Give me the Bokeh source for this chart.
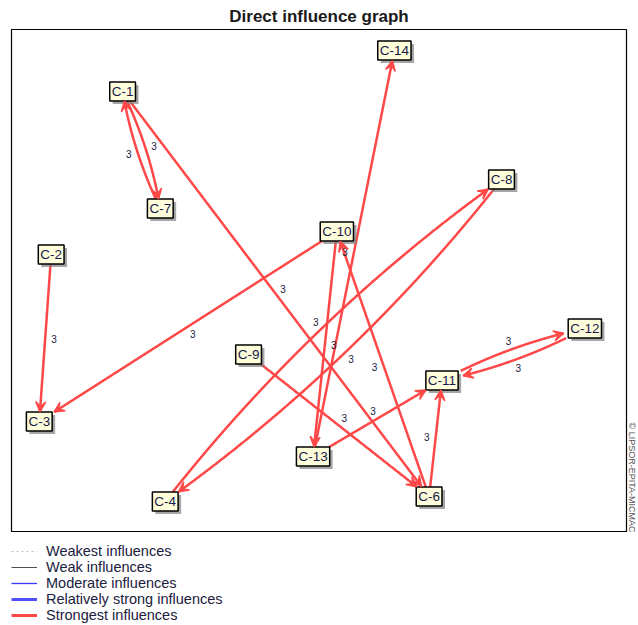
import numpy as np
from bokeh.plotting import figure
from bokeh.layouts import column
from bokeh.models import ColumnDataSource, Range1d, Arrow, VeeHead, Legend, LegendItem, Title
from bokeh.core.properties import value
from bokeh.embed import file_html
from bokeh.resources import INLINE

TITLE = "Direct influence graph"
COPYRIGHT = "\u00a9 LIPSOR-EPITA-MICMAC"

# node layout (graph coordinates, y grows downward)
node_names = ["C-1", "C-2", "C-3", "C-4", "C-6", "C-7", "C-8",
              "C-9", "C-10", "C-11", "C-12", "C-13", "C-14"]
node_x = [112, 40, 28, 155, 421, 150, 494, 239, 328, 434, 578, 304, 386]
node_y = [62, 225, 392, 472, 467, 179, 150, 325, 202, 351, 299, 427, 21]

# direct influences (source -> target, intensity)
edge_from = ["C-1", "C-7", "C-1", "C-2", "C-10", "C-13", "C-10", "C-6",
             "C-4", "C-8", "C-9", "C-13", "C-6", "C-11", "C-12"]
edge_to = ["C-7", "C-1", "C-6", "C-3", "C-3", "C-14", "C-13", "C-10",
           "C-8", "C-4", "C-6", "C-11", "C-11", "C-12", "C-11"]
edge_value = [3, 3, 3, 3, 3, 3, 3, 3, 3, 3, 3, 3, 3, 3, 3]

legend_labels = ["Weakest influences", "Weak influences", "Moderate influences",
                 "Relatively strong influences", "Strongest influences"]

RED = "#ff4848"
FONT = "Liberation Sans"
W = 638

pos = {n: (x, y) for n, x, y in zip(node_names, node_x, node_y)}
pairs = set(zip(edge_from, edge_to))


def half_size(name):
    return 4.7 * len(name) + 2.5, 9.5


line_xs, line_ys = [], []
ax0, ay0, ax1, ay1 = [], [], [], []
lab_x, lab_y = [], []
t = np.linspace(0.0, 1.0, 600)
for a, b in zip(edge_from, edge_to):
    x0, y0 = pos[a]
    x1, y1 = pos[b]
    dx, dy = x1 - x0, y1 - y0
    L = float(np.hypot(dx, dy))
    nx, ny = dy / L, -dx / L
    bulge = 0.036 * L if (b, a) in pairs else 0.0
    cx = (x0 + x1) / 2 + 2 * bulge * nx
    cy = (y0 + y1) / 2 + 2 * bulge * ny
    px = (1 - t) ** 2 * x0 + 2 * (1 - t) * t * cx + t ** 2 * x1
    py = (1 - t) ** 2 * y0 + 2 * (1 - t) * t * cy + t ** 2 * y1
    hw0, hh0 = half_size(a)
    hw1, hh1 = half_size(b)
    out0 = (np.abs(px - x0) > hw0) | (np.abs(py - y0) > hh0)
    out1 = (np.abs(px - x1) > hw1) | (np.abs(py - y1) > hh1)
    idx = np.where(out0 & out1)[0]
    i0, i1 = int(idx[0]), int(idx[-1])
    line_xs.append(list(px[i0:i1 + 1]))
    line_ys.append(list(py[i0:i1 + 1]))
    k = max(i0, i1 - 12)
    ax0.append(float(px[k])); ay0.append(float(py[k]))
    ax1.append(float(px[i1])); ay1.append(float(py[i1]))
    off = bulge + 9
    lab_x.append((x0 + x1) / 2 + off * nx)
    lab_y.append((y0 + y1) / 2 + off * ny)

p = figure(width=W, height=532,
           x_range=Range1d(0, 620), y_range=Range1d(503, 0),
           x_axis_location=None, y_axis_location=None,
           output_backend="svg", toolbar_location=None,
           min_border_left=11, min_border_right=7, min_border_top=0, min_border_bottom=0,
           outline_line_color="black", outline_line_width=1.2,
           background_fill_color="white", border_fill_color="white")
p.grid.visible = False

p.title.text = TITLE
p.title.align = "center"
p.title.text_font = FONT
p.title.text_font_size = "17px"
p.title.text_font_style = "bold"
p.title.text_color = "#1a1a1a"
p.title.standoff = 8

edge_src = ColumnDataSource(dict(xs=line_xs, ys=line_ys))
p.multi_line(xs="xs", ys="ys", source=edge_src, line_color=RED, line_width=2.5)

arrow_src = ColumnDataSource(dict(x0=ax0, y0=ay0, x1=ax1, y1=ay1))
p.add_layout(Arrow(end=VeeHead(size=10, fill_color=RED, line_color=RED, line_width=1.5),
                   x_start="x0", y_start="y0", x_end="x1", y_end="y1",
                   source=arrow_src, line_alpha=0))

lab_src = ColumnDataSource(dict(x=lab_x, y=lab_y, text=[str(v) for v in edge_value]))
p.text(x="x", y="y", text="text", source=lab_src, text_font=value(FONT),
       text_font_size="10px", text_color="#202040", text_align="center",
       text_baseline="middle")

node_src = ColumnDataSource(dict(x=node_x, y=node_y, name=node_names))
p.text(x="x", y="y", text="name", source=node_src, x_offset=3, y_offset=3,
       text_font=value(FONT), text_font_size="13.5px", text_alpha=0,
       text_align="center", text_baseline="middle",
       background_fill_color="#808080", background_fill_alpha=0.7,
       border_line_color=None, padding=2)
p.text(x="x", y="y", text="name", source=node_src,
       text_font=value(FONT), text_font_size="13.5px", text_color="#18184c",
       text_align="center", text_baseline="middle",
       background_fill_color="#ffffdc", border_line_color="black",
       border_line_width=1.5, padding=2)

p.add_layout(Title(text=COPYRIGHT, align="right", text_font=FONT, text_font_size="9px",
                   text_font_style="normal", text_color="#555555", standoff=0, offset=0),
             "right")

# legend in its own strip under the graph
pl = figure(width=W, height=92, x_range=Range1d(0, 1), y_range=Range1d(0, 1),
            x_axis_location=None, y_axis_location=None,
            output_backend="svg", toolbar_location=None,
            min_border_left=11, min_border_right=0, min_border_top=11, min_border_bottom=0,
            outline_line_color=None, border_fill_color="white")
pl.grid.visible = False

leg_styles = [("#c0c0c0", 1, "2 3"), ("#505050", 1, "solid"), ("#3a3aff", 1.3, "solid"),
              ("#5050ff", 3, "solid"), (RED, 3, "solid")]
items = []
for lab, (c, w, d) in zip(legend_labels, leg_styles):
    # off-screen dummy line: only its legend sample is seen
    r = pl.line(x=[5, 6], y=[5, 6], line_color=c, line_width=w, line_dash=d)
    items.append(LegendItem(label=lab, renderers=[r]))

legend = Legend(items=items, location="top_left", orientation="vertical",
                margin=0, padding=1, spacing=0, label_height=16, glyph_height=16,
                glyph_width=26, label_standoff=9, border_line_color=None,
                background_fill_alpha=0, label_text_font=FONT,
                label_text_font_size="14.5px", label_text_color="#202040")
pl.add_layout(legend)

layout = column(p, pl, spacing=0)
open("out.html", "w").write(file_html(layout, INLINE))
